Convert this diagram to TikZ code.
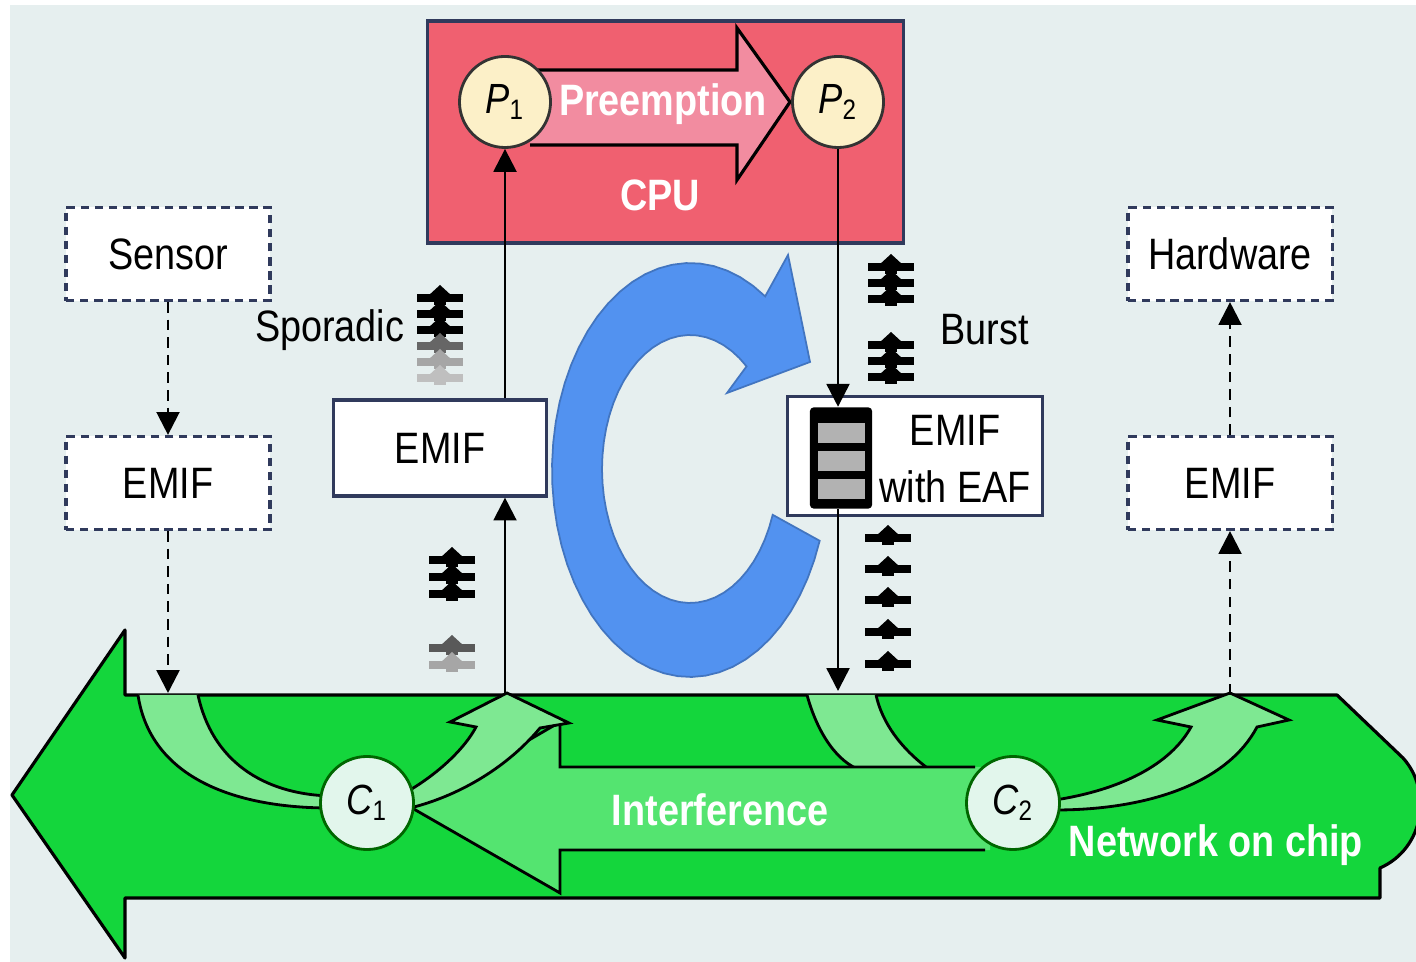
\documentclass[tikz,border=0pt]{standalone}
\usepackage{fontspec}
\setmainfont{Liberation Sans}[FakeStretch=0.86]
\usepackage{graphicx}
\usetikzlibrary{positioning}
\usetikzlibrary{arrows.meta}
\definecolor{bgcol}{RGB}{230,239,239}
\definecolor{cpured}{RGB}{240,96,112}
\definecolor{preempt}{RGB}{242,140,160}
\definecolor{procfill}{RGB}{252,240,200}
\definecolor{nocgreen}{RGB}{20,214,60}
\definecolor{intgreen}{RGB}{84,228,112}
\definecolor{bandgreen}{RGB}{126,232,146}
\definecolor{chanfill}{RGB}{226,246,236}
\definecolor{cycblue}{RGB}{82,146,240}
\definecolor{boxline}{RGB}{48,58,92}
\tikzset{dashbox/.style = {draw=boxline, line width=0.9pt,
                           dash pattern=on 2.4pt off 1.6pt, fill=white,
                           minimum width=2.04cm, minimum height=0.93cm,
                           font=\fontsize{12.5}{14}\selectfont}}
\tikzset{solidbox/.style = {draw=boxline, line width=0.9pt, fill=white,
                            inner sep=0, font=\fontsize{12.5}{14}\selectfont}}
\tikzset{procnode/.style = {circle, draw=black!80, line width=0.8pt, fill=procfill,
                            minimum size=0.91cm, inner sep=0,
                            font=\fontsize{12}{14}\selectfont}}
\tikzset{channode/.style = {circle, draw=black!60!green, line width=0.8pt, fill=chanfill,
                            minimum size=0.93cm, inner sep=0,
                            font=\fontsize{12}{14}\selectfont}}
\tikzset{flow/.style = {line width=0.7pt, -{Triangle[width=6.5pt,length=6.5pt]}}}
\tikzset{dashflow/.style = {flow, dash pattern=on 3pt off 2pt}}
\tikzset{whitelabel/.style = {text=white, font=\bfseries\fontsize{12.5}{14}\selectfont}}
\tikzset{plainlabel/.style = {font=\fontsize{12.5}{14}\selectfont}}
\tikzset{evmark/.pic = {\fill (-23,-1) rectangle (23,7);
                        \fill (-12,1) -- (0,-10) -- (12,1) -- cycle;
                        \fill (-6,0) rectangle (6,10);}}

\begin{document}
\begin{tikzpicture}[x=0.01cm, y=-0.01cm]
      \useasboundingbox (0,0) rectangle (1416,962);
      \fill[white] (0,0) rectangle (1416,962);
      \fill[bgcol] (10,5) rectangle (1416,962);

      % network on chip
      \draw[fill=nocgreen, line width=0.9pt, line join=round]
        (12,795) -- (125,630) -- (125,695) -- (1337,695) -- (1403,758)
        .. controls (1432,790) and (1425,848) .. (1380,868)
        -- (1380,898) -- (125,898) -- (125,958) -- cycle;
      \draw[fill=bandgreen, line width=0.8pt]
        (138,695) .. controls (150,775) and (230,808) .. (330,808)
        -- (330,796) .. controls (262,794) and (212,760) .. (198,695);
      \draw[fill=bandgreen, line width=0.8pt]
        (807,695) .. controls (818,735) and (838,762) .. (860,770)
        -- (930,770) .. controls (900,748) and (882,722) .. (876,695);
      \fill[intgreen] (990,767) -- (560,767) -- (560,722) -- (412,808)
        -- (560,893) -- (560,850) -- (990,850) -- cycle;
      \draw[line width=0.8pt] (975,767) -- (560,767) -- (560,722) -- (412,808)
        -- (560,893) -- (560,850) -- (985,850);
      \draw[fill=bandgreen, line width=0.8pt]
        (410,790) .. controls (440,772) and (465,748) .. (476,727)
        -- (450,722) -- (507,693) -- (569,723) -- (540,728)
        .. controls (505,770) and (455,797) .. (410,808);
      \draw[fill=bandgreen, line width=0.8pt]
        (1055,800) .. controls (1120,790) and (1170,765) .. (1191,727)
        -- (1157,720) -- (1230,693) -- (1289,720) -- (1257,727)
        .. controls (1228,782) and (1150,810) .. (1055,810);
      \node[channode] (c1) at (367,803) {\textit{C}\textsubscript{1}};
      \node[channode] (c2) at (1013,803) {\textit{C}\textsubscript{2}};
      \node[whitelabel] (interf) at (720,810) {Interference};
      \node[whitelabel] (noclabel) at (1216,845) {Network on chip};

      % cycle arrow
      \fill[cycblue, draw=cycblue!80!black, line width=0.5pt]
        plot[domain=20:303, samples=50] ({690+138*cos(\x)}, {470+207*sin(\x)})
        -- (788,255) -- (810,362) -- (727,393)
        -- plot[domain=310:20, samples=50] ({690+88*cos(\x)}, {469+134*sin(\x)})
        -- cycle;

      % cpu
      \node[draw=boxline, line width=0.9pt, fill=cpured, minimum width=4.75cm,
            minimum height=2.22cm, inner sep=0] (cpu) at (665.5,132) {};
      \draw[fill=preempt, line width=0.9pt] (530,70) -- (737,70) -- (737,28)
        -- (790,102) -- (737,180) -- (737,145) -- (530,145);
      \node[whitelabel] (preemption) at (663,104) {Preemption};
      \node[whitelabel] (cpulabel) at (660,195) {CPU};
      \node[procnode] (p1) at (505,102) {\textit{P}\textsubscript{1}};
      \node[procnode] (p2) at (838,102) {\textit{P}\textsubscript{2}};

      % interfaces
      \node[dashbox] (sensor) at (168,254) {Sensor};
      \node[dashbox] (emifs) at (168,483) {EMIF};
      \node[dashbox] (hardware) at (1230,254) {Hardware};
      \node[dashbox] (emifh) at (1230,483) {EMIF};
      \node[solidbox, minimum width=2.13cm, minimum height=0.96cm] (emifp) at (440,448) {EMIF};
      \node[solidbox, minimum width=2.55cm, minimum height=1.19cm] (eaf) at (915,456) {};
      \node[plainlabel, align=center, inner sep=0] (eaflabel) at (955,459) {EMIF\\[2pt]with EAF};
      \node[fill=black, minimum width=0.62cm, minimum height=1.01cm, inner sep=0,
            rounded corners=1pt] (buf) at (841,458) {};
      \foreach \y in {423,451,479}
        \fill[black!30] (818,\y) rectangle (865,\y+20);

      \coordinate (nocsensor) at (168,693);
      \coordinate (nocp1) at (505,693);
      \coordinate (nocp2) at (838,691);
      \coordinate (nochw) at (1230,695);
      \draw[dashflow] (sensor) -- (emifs);
      \draw[dashflow] (emifs) -- (nocsensor);
      \draw[dashflow] (nochw) -- (emifh);
      \draw[dashflow] (emifh) -- (hardware);
      \draw[flow] (nocp1) -- (nocp1 |- emifp.south);
      \draw[flow] (emifp.north -| nocp1) -- (p1);
      \draw[flow] (p2) -- (p2 |- buf.north);
      \draw[flow] (buf.south -| p2) -- (nocp2);

      % events
      \node[plainlabel, anchor=east, inner sep=0] (sporadic) at (405,330) {Sporadic};
      \node[plainlabel, anchor=west, inner sep=0] (burst) at (940,330) {Burst};
      \foreach \y/\c in {295/100,311/100,327/100,343/60,359/35,375/25}
        \pic[black!\c] at (440,\y) {evmark};
      \foreach \y/\c in {557/100,574/100,591/100,645/65,662/35}
        \pic[black!\c] at (452,\y) {evmark};
      \foreach \y in {264,280,296,342,358,374}
        \pic at (891,\y) {evmark};
      \foreach \y in {535,566,597,629,661}
        \pic at (888,\y) {evmark};
    \end{tikzpicture}
\end{document}
